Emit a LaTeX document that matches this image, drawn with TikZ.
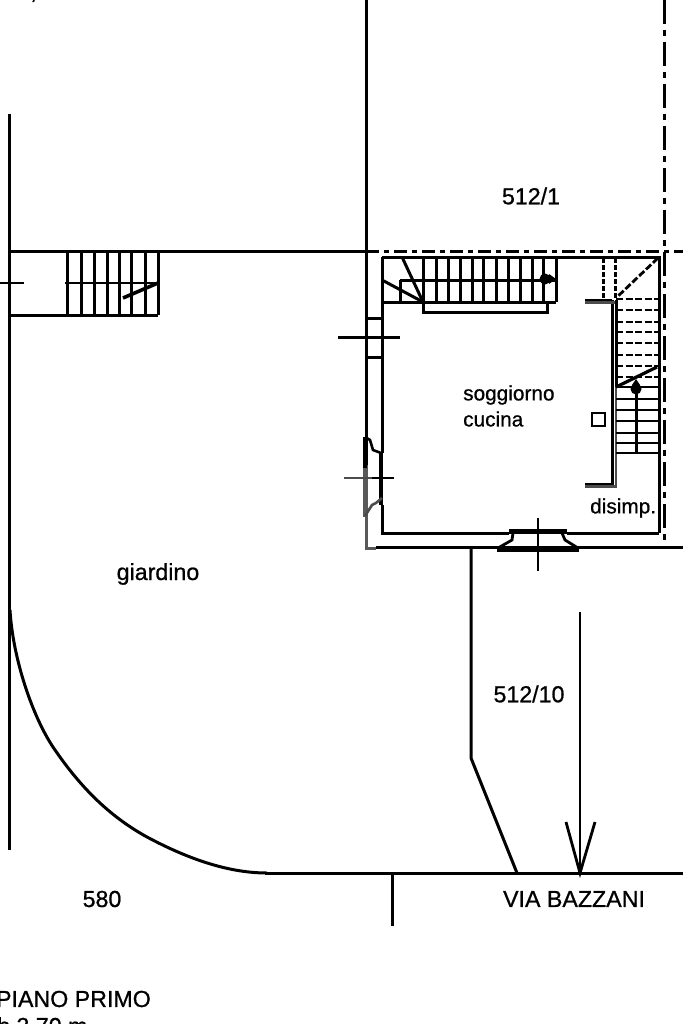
\documentclass[tikz,border=0pt]{standalone}
\usepackage{fontspec}
\setmainfont{Liberation Sans}
\newfontfamily\labfont[FakeBold=0.8]{Liberation Sans}
\tikzset{
  wall/.style={line width=3pt,black},
  thin wall/.style={line width=3pt,black},
  hv/.style={line width=4.4pt,black},
  tread/.style={line width=2.8pt,black},
  dtread/.style={line width=2.6pt,black,dash pattern=on 7pt off 2.5pt},
  boundary/.style={line width=3pt,black,dash pattern=on 13pt off 5pt on 5pt off 5pt},
  boundaryv/.style={line width=3pt,black,dash pattern=on 24pt off 6pt on 6pt off 6pt},
  grey/.style={line width=3pt,black!65},
  lab/.style={inner sep=0pt,font=\labfont\fontsize{23.2}{25}\selectfont,text=black},
  labs/.style={inner sep=0pt,font=\labfont\fontsize{20.8}{22}\selectfont,text=black,anchor=west},
}
\begin{document}
\begin{tikzpicture}[x=1pt,y=-1pt,line cap=butt]
\useasboundingbox (0,0) rectangle (683,1024);
\clip (0,0) rectangle (683,1024);
% property lines
\draw[wall] (9,114) -- (9,850);
\draw[wall] (9,251) -- (366,251);
\draw[boundary] (366,251) -- (683,251);
\draw[wall] (366,0) -- (366,465);
\draw[boundaryv] (664,0) -- (664,548);
\draw[wall] (376,547) -- (683,547);
\draw[grey] (366,465) -- (366,548) -- (376,548);
% curved boundary and street
\draw[wall] (10,610) .. controls (13,660) and (33,717) .. (53,747) .. controls (78,784) and (107,815) .. (147,837) .. controls (190,860) and (230,873) .. (267,873);
\draw[wall] (265,873) -- (683,873);
\draw[wall] (392,873) -- (392,926);
\draw[wall] (471,548) -- (471,758) -- (517,873);
\draw[line width=2.8pt] (580,612) -- (580,873);
\draw[line width=2.8pt] (566,822) -- (580,873) -- (595,822);
% left stair
\draw[wall] (9,315) -- (158,315);
\foreach \x in {67,81,94,107,119,131,145,158} \draw[wall] (\x,251) -- (\x,315);
\draw[line width=1.8pt] (0,283) -- (24,283);
\draw[line width=1.8pt] (65,283) -- (158,283);
\draw[line width=3.6pt] (123,298) -- (158,283);
% room
\draw[wall] (382,257) -- (659,257) -- (659,533);
\draw[wall] (382,257) -- (382,453);
\draw[wall] (382,505) -- (382,533) -- (509,533);
\draw[wall] (567,533) -- (659,533);
% top stair
\draw[wall] (382,302) -- (556,302);
\draw[wall] (400,280) -- (556,280);
\draw[wall] (400,280) -- (400,302);
\draw[wall] (423,302) -- (423,312) -- (547,312) -- (547,302);
\foreach \x in {423,436,448,460,472,483,496,508,520,532,543,556} \draw[wall] (\x,257) -- (\x,302);
\draw[wall] (402,257) -- (423,302);
\draw[wall] (382,280) -- (423,302);
\fill (545,279) circle (5.5pt);
\fill (549,274) -- (556,279) -- (549,284) -- cycle;
% window left
\draw[thin wall] (366,318) -- (382,318);
\draw[thin wall] (366,357) -- (382,357);
\draw[wall] (338,337) -- (400,337);
% right wall
\draw[wall] (585,300) -- (612,300);
\draw[wall] (612,300) -- (612,484) -- (585,484);
\draw[line width=2.6pt,black!70] (585,302.5) -- (616,302.5);
\draw[line width=2.6pt,black!70] (585,486.5) -- (616,486.5) -- (616,387);
\draw[wall] (616,300) -- (616,387);
% right stair
\foreach \y in {299,310,322,332,343,355,366,377} \draw[dtread] (616,\y) -- (659,\y);
\foreach \y in {387,399,410,421,433,443,453} \draw[tread] (616,\y) -- (659,\y);
\draw[wall] (636,385) -- (636,453);
\draw[line width=3pt,dash pattern=on 5pt off 2pt] (603,258) -- (603,298);
\draw[line width=3pt,dash pattern=on 5pt off 2pt] (615,258) -- (615,298);
\draw[line width=2.8pt,dash pattern=on 7pt off 2.5pt] (658,258) -- (616,298);
\draw[line width=3.2pt] (616,387) -- (657,367);
\fill (636,389) circle (5.5pt);
\fill (632,385) -- (636,379) -- (640,385) -- cycle;
\draw[line width=2.8pt] (592,413) rectangle (605,426);
% bottom door
\draw[hv] (509,531.5) -- (567,531.5);
\draw[hv] (497,550) -- (579,550);
\draw[line width=2.8pt] (513,533) -- (512,540) -- (498,548);
\draw[line width=2.8pt] (562,533) -- (565,540) -- (578,548);
\draw[line width=2.6pt] (538,518) -- (538,571);
% left door
\draw[line width=3.6pt] (365,437) -- (365,468);
\draw[line width=2.6pt] (365,437) -- (370,440) -- (373,450) -- (381,453);
\draw[line width=3.6pt] (381,453) -- (381,505);
\draw[line width=3.6pt,black!65] (365,468) -- (365,517);
\draw[line width=2.6pt,black!70] (365,516) -- (372,505) -- (376,503) -- (382,498);
\draw[line width=2.6pt,black!70] (344,478) -- (372,478);
\draw[line width=2.6pt] (372,478) -- (394,478);
% labels
\node[lab] (lotA) at (531,196) {512/1};
\node[lab] (lotB) at (529,694) {512/10};
\node[labs] (room1) at (463,395) {soggiorno};
\node[labs] (room2) at (463,419) {cucina};
\node[labs] (room3) at (590,508) {disimp.};
\node[lab] (garden) at (158,574) {giardino};
\node[lab] (num) at (102,899) {580};
\node[lab] (street) at (574,899) {VIA BAZZANI};
\node[lab,anchor=east] (floor) at (151,999) {PIANO PRIMO};
\node[lab,anchor=base west] (hbot) at (-3,1034) {h 3,70 m};
\node[lab,anchor=base west] (htop) at (-2,-1) {h 2,70 m};
\end{tikzpicture}
\end{document}
